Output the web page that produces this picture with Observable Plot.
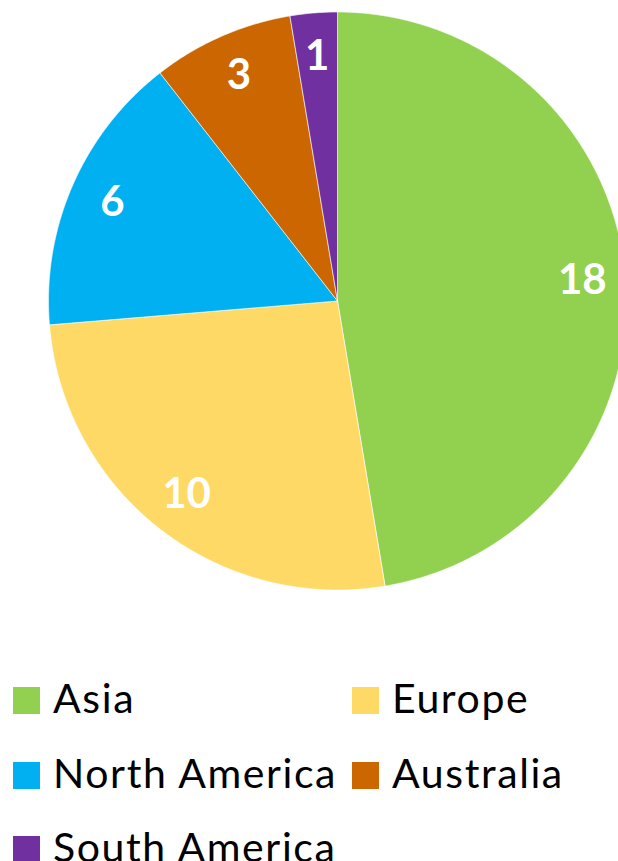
<!DOCTYPE html>
<html>
<head>
<meta charset="utf-8">
<script src="https://cdn.jsdelivr.net/npm/d3@7"></script>
<script src="https://cdn.jsdelivr.net/npm/@observablehq/plot@0.6"></script>
<style>
  html, body { margin: 0; padding: 0; background: white; overflow: hidden; }
  #wrap { position: relative; width: 618px; height: 861px; overflow: hidden; }
  #legend { position: absolute; left: 0; top: 660px; width: 618px; height: 201px; font-family: Lato, "Open Sans", sans-serif; }
  .item { position: absolute; height: 74px; }
  .sw { position: absolute; width: 27px; height: 27px; }
  .lbl { position: absolute; font-size: 41px; line-height: 41px; letter-spacing: 1.6px; color: #000; white-space: nowrap; }
</style>
</head>
<body>
<div id="wrap"></div>
<script>
const categories = ["Asia", "Europe", "North America", "Australia", "South America"];
const values = [18, 10, 6, 3, 1];
const colors = ["#92D050", "#FFD966", "#00B0F0", "#CC6600", "#7030A0"];

const arcs = d3.pie().sort(null).value(d => d)(values);

const slices = [];
arcs.forEach((a, i) => {
  const n = Math.max(4, Math.ceil((a.endAngle - a.startAngle) / (Math.PI / 360)));
  slices.push({category: categories[i], x: 0, y: 0});
  for (let k = 0; k <= n; k++) {
    const t = a.startAngle + (a.endAngle - a.startAngle) * k / n;
    slices.push({category: categories[i], x: Math.sin(t), y: Math.cos(t)});
  }
  slices.push({category: categories[i], x: 0, y: 0});
});

const labels = arcs.map((a, i) => {
  const m = (a.startAngle + a.endAngle) / 2;
  return {label: String(values[i]), x: 0.85 * Math.sin(m), y: 0.85 * Math.cos(m)};
});

const W = 618, H = 660, R = 289, CX = 337, CY = 300.5;

const chart = Plot.plot({
  width: W,
  height: H,
  margin: 0,
  x: {domain: [-CX / R, (W - CX) / R], axis: null},
  y: {domain: [-(H - CY) / R, CY / R], axis: null},
  color: {domain: categories, range: colors},
  marks: [
    Plot.line(slices, {x: "x", y: "y", z: "category", fill: "category", stroke: "white", strokeWidth: 0.6, clip: true}),
    Plot.text(labels, {x: "x", y: "y", text: "label", fill: "white", fontSize: 42, fontWeight: "bold", fontFamily: "Lato, sans-serif"})
  ]
});

const wrap = document.getElementById("wrap");
wrap.appendChild(chart);

const legend = document.createElement("div");
legend.id = "legend";
categories.forEach((c, i) => {
  const col = i % 2, row = Math.floor(i / 2);
  const item = document.createElement("div");
  item.className = "item";
  item.style.left = (13 + col * 339) + "px";
  item.style.top = (row * 74.5) + "px";
  const sw = document.createElement("div");
  sw.className = "sw";
  sw.style.background = colors[i];
  sw.style.left = "0px";
  sw.style.top = "27px";
  const lb = document.createElement("div");
  lb.className = "lbl";
  lb.textContent = c;
  lb.style.left = "40px";
  lb.style.top = "17px";
  item.appendChild(sw);
  item.appendChild(lb);
  legend.appendChild(item);
});
wrap.appendChild(legend);
</script>
</body>
</html>
